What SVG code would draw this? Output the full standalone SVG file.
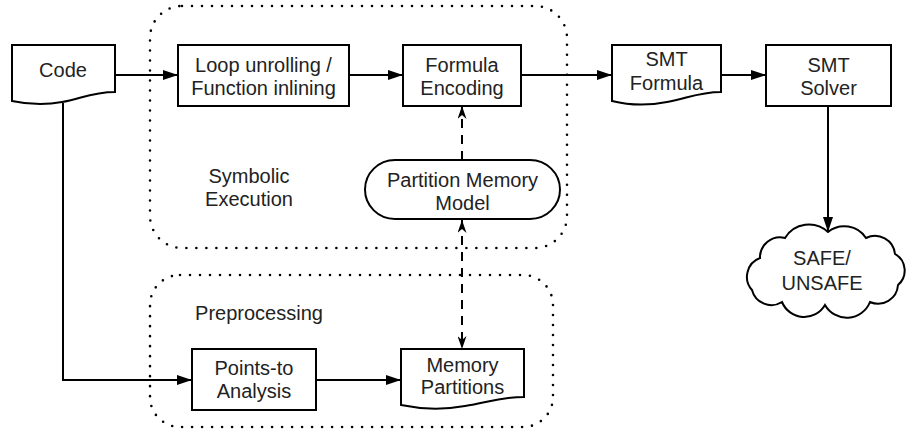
<svg xmlns="http://www.w3.org/2000/svg" width="909" height="432" viewBox="0 0 909 432">
<defs>
<style>
.shape{fill:#fff;stroke:#000;stroke-width:2}
.grp{fill:none;stroke:#000;stroke-width:2.6;stroke-dasharray:0 10;stroke-linecap:round}
.txt{font-family:"Liberation Sans",Arial,sans-serif;font-size:20px;fill:#222;text-anchor:middle}
.conn{fill:none;stroke:#000;stroke-width:2}
.dash{fill:none;stroke:#000;stroke-width:2;stroke-dasharray:9 7}
</style>
<marker id="arr" viewBox="0 0 15 10" refX="15" refY="5" markerWidth="15" markerHeight="10" markerUnits="userSpaceOnUse" orient="auto">
<path d="M0,0 L15,5 L0,10 Z" fill="#000"/>
</marker>
<marker id="darr" viewBox="0 0 13 9" refX="13" refY="4.5" markerWidth="13" markerHeight="9" markerUnits="userSpaceOnUse" orient="auto-start-reverse">
<path d="M0,0 L13,4.5 L0,9 L4,4.5 Z" fill="#000"/>
</marker>
</defs>
<rect width="909" height="432" fill="#fff"/>

<g id="group-symbolic">
<rect class="grp" x="150" y="6" width="417" height="242" rx="32" ry="32"/>
<text class="txt" x="249" y="183">Symbolic</text>
<text class="txt" x="249" y="206">Execution</text>
</g>
<g id="group-preprocessing">
<rect class="grp" x="150" y="275" width="403" height="152" rx="30" ry="30"/>
<text class="txt" x="259" y="320">Preprocessing</text>
</g>

<g id="connectors">
<line class="conn" x1="115" y1="75" x2="178" y2="75" marker-end="url(#arr)"/>
<line class="conn" x1="349" y1="75" x2="403" y2="75" marker-end="url(#arr)"/>
<line class="conn" x1="521" y1="75" x2="612" y2="75" marker-end="url(#arr)"/>
<line class="conn" x1="721" y1="75" x2="766" y2="75" marker-end="url(#arr)"/>
<line class="conn" x1="828" y1="106" x2="828" y2="232" marker-end="url(#arr)"/>
<path class="conn" d="M63,103 V380 H192" marker-end="url(#arr)"/>
<line class="conn" x1="316" y1="380" x2="401" y2="380" marker-end="url(#arr)"/>
<line class="dash" x1="462" y1="160" x2="462" y2="106" marker-end="url(#darr)"/>
<line class="dash" x1="462" y1="220" x2="462" y2="349" marker-start="url(#darr)" marker-end="url(#darr)"/>
</g>

<g id="node-code">
<path class="shape" d="M12,45 H115 V92 C92,92 80,99 62,102 C42,106 26,104 12,101 Z"/>
<text class="txt" x="63" y="77">Code</text>
</g>
<g id="node-loop">
<rect class="shape" x="178" y="45" width="171" height="61"/>
<text class="txt" x="263.5" y="72">Loop unrolling /</text>
<text class="txt" x="263.5" y="95">Function inlining</text>
</g>
<g id="node-formula-encoding">
<rect class="shape" x="403" y="45" width="118" height="61"/>
<text class="txt" x="462" y="72">Formula</text>
<text class="txt" x="462" y="95">Encoding</text>
</g>
<g id="node-smt-formula">
<path class="shape" d="M612,45 H721 V92 C698,92 686,99 667,102 C647,106 628,105 612,101 Z"/>
<text class="txt" x="666.5" y="66">SMT</text>
<text class="txt" x="666.5" y="90">Formula</text>
</g>
<g id="node-smt-solver">
<rect class="shape" x="766" y="45" width="125" height="61"/>
<text class="txt" x="828.5" y="72">SMT</text>
<text class="txt" x="828.5" y="95">Solver</text>
</g>
<g id="node-result">
<path class="shape" d="M760,258 A20,20 0 0 1 785,238 A28,28 0 0 1 828,232 A26,26 0 0 1 866,238 A20,20 0 0 1 895,254 A19,19 0 0 1 898,285 A20,20 0 0 1 870,302 A25,25 0 0 1 825,305 A24,24 0 0 1 782,302 A20,20 0 0 1 752,290 A20,20 0 0 1 760,258 Z"/>
<text class="txt" x="822" y="265">SAFE/</text>
<text class="txt" x="822" y="290">UNSAFE</text>
</g>
<g id="node-pmm">
<rect class="shape" x="365" y="160" width="195" height="59" rx="30" ry="29.5"/>
<text class="txt" x="462.5" y="187">Partition Memory</text>
<text class="txt" x="462.5" y="210">Model</text>
</g>
<g id="node-points-to">
<rect class="shape" x="192" y="349" width="124" height="61"/>
<text class="txt" x="254" y="375">Points-to</text>
<text class="txt" x="254" y="398">Analysis</text>
</g>
<g id="node-memory-partitions">
<path class="shape" d="M401,349 H524 V397 C500,397 486,403 465,406 C443,410 420,409 401,405 Z"/>
<text class="txt" x="462.5" y="372">Memory</text>
<text class="txt" x="462.5" y="394">Partitions</text>
</g>
</svg>
